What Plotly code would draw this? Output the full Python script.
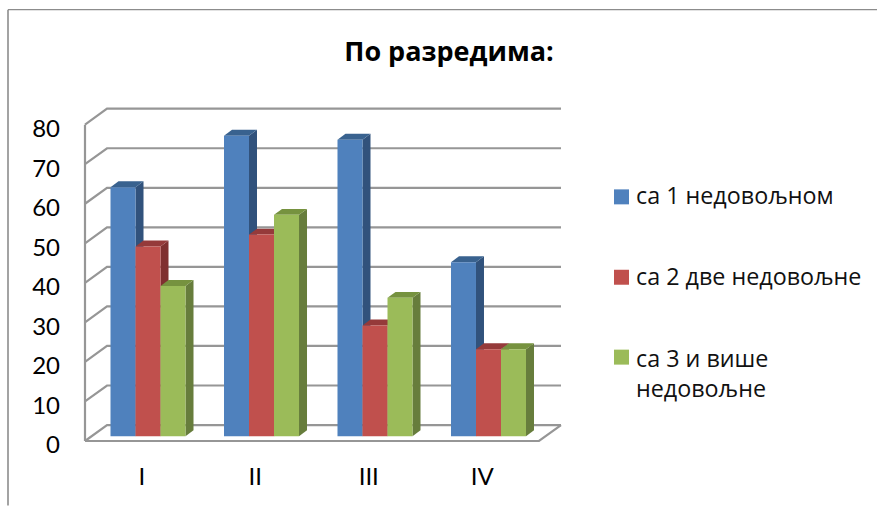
import plotly.graph_objects as go

categories = ["I", "II", "III", "IV"]
series_names = ["са 1 недовољном", "са 2 две недовољне", "са 3 и више<br>недовољне"]
values_1 = [63, 76, 75, 44]
values_2 = [48, 51, 28, 22]
values_3 = [38, 56, 35, 22]
y_ticks = [0, 10, 20, 30, 40, 50, 60, 70, 80]

front_colors = ["#4F81BD", "#C0504D", "#9BBB59"]
side_colors = ["#31527C", "#7F3030", "#677D3C"]
top_colors = ["#39628F", "#953A3A", "#76923F"]
GRID = "#969696"

# pseudo-3D projection in axis units
WALL_DX, WALL_DY = 0.194, 4.04
BAR_DX, BAR_DY = 0.0705, 1.5
BAR_W = 0.2203
BAR_START = -0.2753
BAR_BASE = 1.2
X0, X1 = -0.5, 3.5
PX_PER_CAT, PX_PER_UNIT = 113.5, 3.96
L, R, T, B = 80, 567, 104, 446.5  # plot-area box in the window

# legend layout in window pixels
LEGEND_SWATCH_X = (614, 629)
LEGEND_TEXT_X = 635
LEGEND_SWATCH_Y = [197, 277.5, 357.5]
LEGEND_TEXT_Y = [195, 276, 373.5]


def px(x):
    return (x - L) / (R - L)


def py(y):
    return (B - y) / (B - T)


fig = go.Figure()
shapes = []
annotations = []


def line(xs, ys):
    d = "M " + " L ".join(f"{x},{y}" for x, y in zip(xs, ys))
    shapes.append(dict(type="path", path=d, xref="x", yref="y", layer="below",
                       line=dict(color=GRID, width=2.2)))


for t in y_ticks:
    line([X0, X0 + WALL_DX, X1 + WALL_DX], [t, t + WALL_DY, t + WALL_DY])
line([X0, X0], [0, y_ticks[-1]])
line([X0, X1, X1 + WALL_DX], [0, 0, WALL_DY])

all_values = [values_1, values_2, values_3]
for s, vals in enumerate(all_values):
    off = BAR_START + s * BAR_W
    for i, v in enumerate(vals):
        l, r = i + off, i + off + BAR_W
        top = BAR_BASE + v
        shapes.append(dict(type="path", xref="x", yref="y", layer="below",
                           path=f"M {r},{BAR_BASE} L {r + BAR_DX},{BAR_BASE + BAR_DY} L {r + BAR_DX},{top + BAR_DY} L {r},{top} Z",
                           fillcolor=side_colors[s], line=dict(width=0)))
        shapes.append(dict(type="path", xref="x", yref="y", layer="below",
                           path=f"M {l},{top} L {l + BAR_DX},{top + BAR_DY} L {r + BAR_DX},{top + BAR_DY} L {r},{top} Z",
                           fillcolor=top_colors[s], line=dict(width=0)))
    fig.add_trace(go.Bar(
        x=list(range(len(categories))), y=vals, base=BAR_BASE,
        name=series_names[s].replace("<br>", " "),
        width=BAR_W, offset=off, showlegend=False,
        marker=dict(color=front_colors[s], line=dict(width=0)),
    ))
    # legend entry: swatch and label
    half = (LEGEND_SWATCH_X[1] - LEGEND_SWATCH_X[0]) / 2
    shapes.append(dict(type="rect", xref="paper", yref="paper",
                       x0=px(LEGEND_SWATCH_X[0]), x1=px(LEGEND_SWATCH_X[1]),
                       y0=py(LEGEND_SWATCH_Y[s] + half), y1=py(LEGEND_SWATCH_Y[s] - half),
                       fillcolor=front_colors[s], line=dict(width=0)))
    annotations.append(dict(text=series_names[s], xref="paper", yref="paper",
                            x=px(LEGEND_TEXT_X), y=py(LEGEND_TEXT_Y[s]),
                            xanchor="left", yanchor="middle", align="left",
                            showarrow=False, borderpad=0,
                            font=dict(family="Open Sans", size=23.3, color="#111111")))

# chart-area frame (top and left edges)
shapes.append(dict(type="line", xref="paper", yref="paper", x0=px(8), x1=px(877),
                   y0=py(9.5), y1=py(9.5), line=dict(color="#8C8C8C", width=1.2)))
shapes.append(dict(type="line", xref="paper", yref="paper", x0=px(8), x1=px(8),
                   y0=py(506), y1=py(9.5), line=dict(color="#8C8C8C", width=1.6)))

fig.update_layout(
    width=877, height=506, autosize=False,
    margin=dict(l=L, r=877 - R, t=T, b=506 - B, pad=0),
    paper_bgcolor="white", plot_bgcolor="white",
    barmode="overlay", shapes=shapes, annotations=annotations, showlegend=False,
    title=dict(text="<b>По разредима:</b>", x=449 / 877, y=1 - 52 / 506,
               xref="container", yref="container", xanchor="center", yanchor="middle",
               font=dict(family="Open Sans", size=27, color="black")),
    xaxis=dict(range=[X0 - (85 - L) / PX_PER_CAT, X1 + WALL_DX + (R - 561) / PX_PER_CAT],
               tickvals=list(range(len(categories))), ticktext=categories,
               showgrid=False, zeroline=False, showline=False, ticks="",
               ticklabelstandoff=14, tickfont=dict(family="Lato", size=24, color="black")),
    yaxis=dict(range=[-(B - 441.5) / PX_PER_UNIT, (441.5 - T) / PX_PER_UNIT],
               tickvals=y_ticks, ticktext=[str(t) for t in y_ticks],
               showgrid=False, zeroline=False, showline=False, ticks="",
               ticklabelstandoff=19, ticklabelshift=4,
               tickfont=dict(family="Lato", size=24, color="black")),
)

fig.write_html("out.html", post_script="document.body.style.margin='0';document.body.style.overflow='hidden';",
               config=dict(displayModeBar=False))
